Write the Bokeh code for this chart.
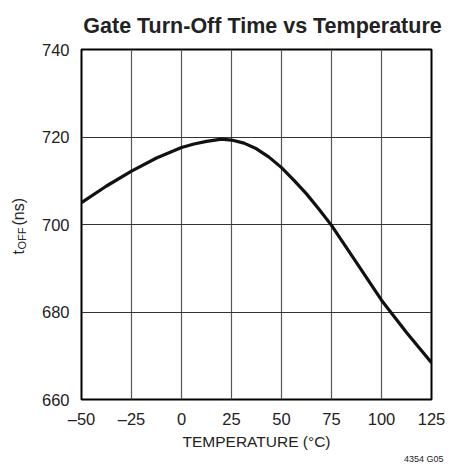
import math
from bokeh.plotting import figure
from bokeh.layouts import column, row
from bokeh.models import FixedTicker, Range1d
from bokeh.core.properties import value
from bokeh.embed import file_html
from bokeh.resources import INLINE

# ---- data ----
temps = [-50, -37.5, -25, -12.5, 0, 6.25, 12.5, 20, 25, 31.25, 37.5, 43.75, 50, 56.25,
         62.5, 68.75, 75, 87.5, 100, 112.5, 125]
toff = [705.0, 708.8, 712.2, 715.2, 717.6, 718.4, 719.0, 719.5, 719.3, 718.6, 717.3, 715.4, 713.0, 710.1,
        707.0, 703.5, 699.8, 691.3, 682.7, 675.3, 668.4]
x_ticks = [-50, -25, 0, 25, 50, 75, 100, 125]
x_tick_labels = ["\u201350", "\u201325", "0", "25", "50", "75", "100", "125"]
y_ticks = [660, 680, 700, 720, 740]

title_text = "Gate Turn-Off Time vs Temperature"
x_label = "TEMPERATURE (\u00b0C)"
y_label_parts = ["t", "OFF", " (ns)"]
note_text = "4354 G05"

FONT = "Liberation Sans"
TXT = "#222222"

MAIN_H = 410
TOP, BOT = 7, 53


def blank(w, h, **kw):
    f = figure(width=w, height=h, output_backend="svg", toolbar_location=None,
               x_axis_location=None, y_axis_location=None, **kw)
    f.outline_line_color = None
    f.grid.visible = False
    f.background_fill_color = "white"
    f.border_fill_color = "white"
    return f


# ---- title strip ----
tf = blank(458, 42, x_range=Range1d(0, 458), y_range=Range1d(0, 42), min_border=0)
tf.text(x=[262], y=[17], text=[title_text], text_align="center", text_baseline="alphabetic",
        text_font=value(FONT), text_font_style="bold", text_font_size="21.5px", text_color=TXT)

# ---- y label strip (frame aligned with chart frame) ----
yf = blank(38, MAIN_H, x_range=Range1d(0, 38), y_range=Range1d(0, 350),
           min_border_left=0, min_border_right=0, min_border_top=TOP, min_border_bottom=BOT)
yf.text(x=[18, 21, 18], y=[145, 150, 174], text=y_label_parts, angle=math.pi / 2,
        text_align="left", text_baseline="alphabetic", text_font=value(FONT),
        text_font_size=["16px", "11px", "16px"], text_color=TXT)

# ---- main chart ----
p = figure(width=420, height=MAIN_H, output_backend="svg", toolbar_location=None,
           x_range=Range1d(-50, 125), y_range=Range1d(660, 740),
           min_border_left=41, min_border_right=27, min_border_top=TOP, min_border_bottom=BOT)
p.background_fill_color = "white"
p.border_fill_color = "white"
p.outline_line_color = "black"
p.outline_line_width = 2

p.xaxis.ticker = FixedTicker(ticks=x_ticks)
p.yaxis.ticker = FixedTicker(ticks=y_ticks)
p.xaxis.major_label_overrides = {t: l for t, l in zip(x_ticks, x_tick_labels)}
for ax in (p.xaxis, p.yaxis):
    ax.axis_line_color = None
    ax.major_tick_line_color = None
    ax.minor_tick_line_color = None
    ax.major_tick_out = 0
    ax.major_tick_in = 0
    ax.minor_tick_out = 0
    ax.minor_tick_in = 0
    ax.major_label_text_font = FONT
    ax.major_label_text_font_size = "16.5px"
    ax.major_label_text_color = TXT
p.xaxis.major_label_standoff = 10
p.yaxis.major_label_standoff = 12
p.xaxis.axis_label = x_label
p.xaxis.axis_label_text_font = FONT
p.xaxis.axis_label_text_font_size = "15.5px"
p.xaxis.axis_label_text_font_style = "normal"
p.xaxis.axis_label_text_color = TXT
p.xaxis.axis_label_standoff = 2

p.xgrid.grid_line_color = "#555555"
p.ygrid.grid_line_color = "#333333"
p.xgrid.grid_line_width = 1.2
p.ygrid.grid_line_width = 1.2

p.line(temps, toff, line_color="#111111", line_width=3.2)

# ---- note strip ----
nf = blank(458, 15, x_range=Range1d(0, 458), y_range=Range1d(0, 15), min_border=0)
nf.text(x=[443], y=[9], text=[note_text], text_align="right", text_baseline="alphabetic",
        text_font=value(FONT), text_font_size="9px", text_color=TXT)

layout = column(tf, row(yf, p), nf)
open("out.html", "w").write(file_html(layout, INLINE))
